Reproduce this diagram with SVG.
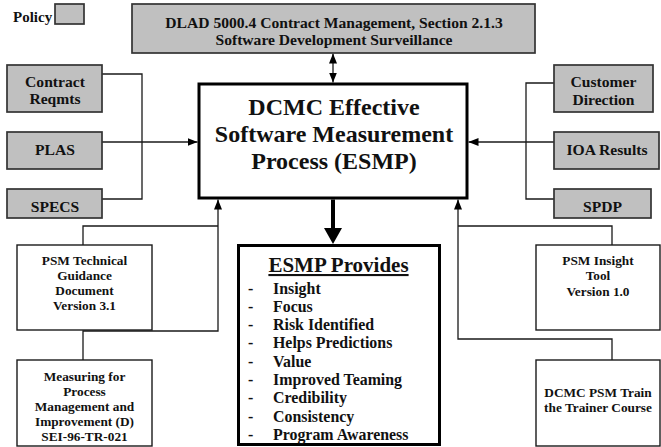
<svg xmlns="http://www.w3.org/2000/svg" width="661" height="447" viewBox="0 0 661 447" font-family="'Liberation Serif', Tinos, 'Times New Roman', serif" font-weight="bold">
<style>
  .bg{fill:#ffffff}
  .pol{fill:#c0c0c0;stroke:#333333;stroke-width:1.7}
  .doc{fill:#ffffff;stroke:#1a1a1a;stroke-width:1.4}
  .main{fill:#ffffff;stroke:#000000;stroke-width:3}
  .ln{fill:none;stroke:#1a1a1a;stroke-width:1.3}
  text{font-family:'Liberation Serif', Tinos, 'Times New Roman', serif;font-weight:700;fill:#111111}
  .t16{font-size:15.6px;text-anchor:middle}
  .t13{font-size:13.3px;text-anchor:middle}
  .t24{font-size:24px;text-anchor:middle}
  .item{font-size:15.9px}
</style>
<defs>
  <marker id="ah" markerUnits="userSpaceOnUse" markerWidth="10" markerHeight="8" refX="10" refY="4" orient="auto-start-reverse">
    <path d="M0,0 L10,4 L0,8 Z" fill="#000000"/>
  </marker>
</defs>
<rect class="bg" x="0" y="0" width="661" height="447"/>

<g id="legend">
  <text x="13" y="22" style="font-size:15px">Policy</text>
  <rect class="pol" x="55" y="4" width="29" height="20"/>
</g>

<g id="connectors">
  <line class="ln" x1="333" y1="53.5" x2="333" y2="82.5" marker-start="url(#ah)" marker-end="url(#ah)"/>
  <polyline class="ln" points="102,74 142,74 142,199 102,199"/>
  <line class="ln" x1="102" y1="142" x2="197.5" y2="142" marker-end="url(#ah)"/>
  <polyline class="ln" points="554,83 526,83 526,199 554,199"/>
  <line class="ln" x1="554" y1="142" x2="468.5" y2="142" marker-end="url(#ah)"/>
  <path class="ln" d="M83,245 V226 H218"/>
  <path class="ln" d="M83,360 V331 H218 V199.5" marker-end="url(#ah)"/>
  <path class="ln" d="M612,245 V226 H458"/>
  <path class="ln" d="M612,360 V339 H458 V199.5" marker-end="url(#ah)"/>
  <line x1="333" y1="199.5" x2="333" y2="229" stroke="#000000" stroke-width="4"/>
  <polygon points="324,228 342,228 333,244" fill="#000000"/>
</g>

<g id="dlad">
  <rect class="pol" x="132" y="4" width="403" height="49"/>
  <text class="t16" x="334" y="28">DLAD 5000.4 Contract Management, Section 2.1.3</text>
  <text class="t16" x="334" y="45">Software Development Surveillance</text>
</g>

<g id="main">
  <rect class="main" x="199" y="84" width="268" height="114"/>
  <text class="t24" x="334" y="115">DCMC Effective</text>
  <text class="t24" x="334" y="142">Software Measurement</text>
  <text class="t24" x="334" y="169">Process (ESMP)</text>
</g>

<g id="contract">
  <rect class="pol" x="7" y="65" width="95" height="47"/>
  <text class="t16" x="55" y="87">Contract</text>
  <text class="t16" x="55" y="104">Reqmts</text>
</g>
<g id="plas">
  <rect class="pol" x="7" y="132" width="95" height="37"/>
  <text class="t16" x="55" y="155">PLAS</text>
</g>
<g id="specs">
  <rect class="pol" x="7" y="189" width="95" height="29"/>
  <text class="t16" x="55" y="212">SPECS</text>
</g>

<g id="customer">
  <rect class="pol" x="554" y="65" width="99" height="47"/>
  <text class="t16" x="603.5" y="87">Customer</text>
  <text class="t16" x="603.5" y="105">Direction</text>
</g>
<g id="ioa">
  <rect class="pol" x="554" y="132" width="105" height="37"/>
  <text class="t16" x="607" y="155">IOA Results</text>
</g>
<g id="spdp">
  <rect class="pol" x="554" y="189" width="97" height="29"/>
  <text class="t16" x="602.5" y="212">SPDP</text>
</g>

<g id="psm-tech">
  <rect class="doc" x="17" y="245" width="135" height="85"/>
  <text class="t13" x="84.5" y="265">PSM Technical</text>
  <text class="t13" x="84.5" y="280">Guidance</text>
  <text class="t13" x="84.5" y="295">Document</text>
  <text class="t13" x="84.5" y="310">Version 3.1</text>
</g>
<g id="measuring">
  <rect class="doc" x="17" y="360" width="135" height="86"/>
  <text class="t13" x="84.5" y="381">Measuring for</text>
  <text class="t13" x="84.5" y="396">Process</text>
  <text class="t13" x="84.5" y="411">Management and</text>
  <text class="t13" x="84.5" y="426">Improvement (D)</text>
  <text class="t13" x="84.5" y="441">SEI-96-TR-021</text>
</g>

<g id="psm-insight">
  <rect class="doc" x="536" y="245" width="124" height="85"/>
  <text class="t13" x="598" y="265">PSM Insight</text>
  <text class="t13" x="598" y="280">Tool</text>
  <text class="t13" x="598" y="296">Version 1.0</text>
</g>
<g id="train">
  <rect class="doc" x="536" y="360" width="124" height="86"/>
  <text class="t13" x="598" y="397">DCMC PSM Train</text>
  <text class="t13" x="598" y="412">the Trainer Course</text>
</g>

<g id="esmp-provides">
  <rect class="main" x="238.5" y="245.5" width="201" height="199"/>
  <text x="338.5" y="272" style="font-size:21px;text-anchor:middle;text-decoration:underline">ESMP Provides</text>
  <g class="item">
    <text x="248" y="294">-</text><text x="273" y="294">Insight</text>
    <text x="248" y="312">-</text><text x="273" y="312">Focus</text>
    <text x="248" y="330">-</text><text x="273" y="330">Risk Identified</text>
    <text x="248" y="348">-</text><text x="273" y="348">Helps Predictions</text>
    <text x="248" y="367">-</text><text x="273" y="367">Value</text>
    <text x="248" y="385">-</text><text x="273" y="385">Improved Teaming</text>
    <text x="248" y="403">-</text><text x="273" y="403">Credibility</text>
    <text x="248" y="422">-</text><text x="273" y="422">Consistency</text>
    <text x="248" y="440">-</text><text x="273" y="440">Program Awareness</text>
  </g>
</g>
</svg>
